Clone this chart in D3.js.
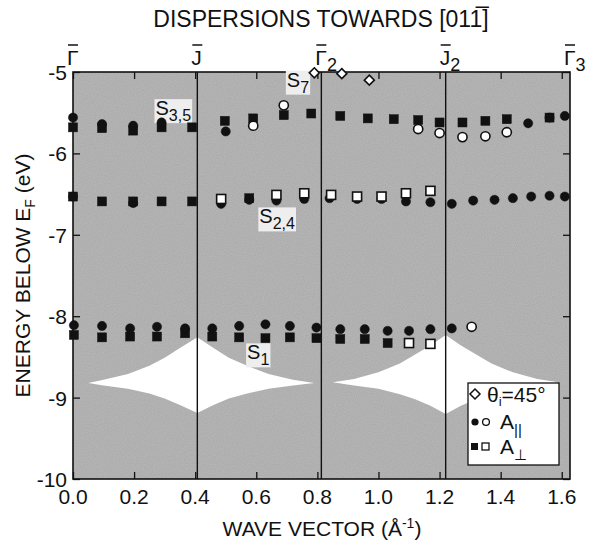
<!DOCTYPE html>
<html>
<head>
<meta charset="utf-8">
<script src="https://cdn.jsdelivr.net/npm/d3@7"></script>
<style>
  body { margin: 0; background: #fff; }
  svg text { font-family: "Liberation Sans", Arial, sans-serif; fill: #111; }
</style>
</head>
<body>
<svg id="chart" width="589" height="546"></svg>
<script>
// Overall dimension of the canvas
const width = 589, height = 546;
const margin = {top: 72, right: 19, bottom: 67, left: 73};
const plotW = width - margin.left - margin.right,
      plotH = height - margin.top - margin.bottom;

// symmetry points along [01-1]
const symLabels = ["\u0393", "J", "\u0393", "J", "\u0393"];
const symSubs   = ["", "", "2", "2", "3"];
const symK      = [0, 0.407, 0.813, 1.22, 1.627];

const xTicks = [0.0, 0.2, 0.4, 0.6, 0.8, 1.0, 1.2, 1.4, 1.6];
const yTicks = [-5, -6, -7, -8, -9, -10];

// measured points [k, E]
// S3,5 band
const s35FilledCircle = [[0,-5.56],[0.095,-5.64],[0.197,-5.66],[0.29,-5.62],[0.5,-5.73],[1.49,-5.63],[1.56,-5.56],[1.61,-5.54]];
const s35FilledSquare = [[0,-5.68],[0.095,-5.69],[0.197,-5.72],[0.29,-5.68],[0.39,-5.68],[0.497,-5.60],[0.59,-5.57],[0.69,-5.53],
                         [0.78,-5.51],[0.875,-5.54],[0.965,-5.57],[1.05,-5.58],[1.13,-5.59],[1.2,-5.62],[1.275,-5.62],[1.35,-5.60],[1.42,-5.58],[1.56,-5.56]];
const s35OpenCircle   = [[0.59,-5.66],[0.69,-5.41],[1.13,-5.70],[1.20,-5.75],[1.275,-5.80],[1.35,-5.79],[1.42,-5.74]];
// S2,4 band
const s24FilledCircle = [[0,-6.53],[0.197,-6.61],[0.485,-6.62],[0.577,-6.57],[0.666,-6.58],[0.757,-6.56],[0.84,-6.55],[0.93,-6.56],
                         [1.01,-6.56],[1.09,-6.59],[1.17,-6.60],[1.24,-6.62],[1.31,-6.58],[1.38,-6.57],[1.44,-6.55],[1.50,-6.53],[1.56,-6.52],[1.61,-6.53]];
const s24FilledSquare = [[0,-6.53],[0.095,-6.59],[0.197,-6.59],[0.29,-6.59],[0.39,-6.59],[0.577,-6.55]];
const s24OpenSquare   = [[0.485,-6.56],[0.666,-6.51],[0.757,-6.49],[0.845,-6.51],[0.93,-6.53],[1.01,-6.53],[1.09,-6.49],[1.17,-6.46]];
// S1 band
const s1FilledCircle  = [[0.003,-8.11],[0.095,-8.12],[0.187,-8.15],[0.275,-8.13],[0.367,-8.15],[0.456,-8.15],[0.544,-8.12],[0.63,-8.10],
                         [0.71,-8.12],[0.797,-8.14],[0.875,-8.16],[0.955,-8.16],[1.03,-8.18],[1.10,-8.18],[1.17,-8.16],[1.24,-8.15]];
const s1FilledSquare  = [[0.003,-8.23],[0.095,-8.26],[0.187,-8.25],[0.275,-8.25],[0.367,-8.21],[0.456,-8.25],[0.544,-8.26],[0.63,-8.27],
                         [0.71,-8.26],[0.797,-8.27],[0.875,-8.28],[0.955,-8.28],[1.03,-8.33]];
const s1OpenSquare    = [[1.10,-8.33],[1.17,-8.34]];
const s1OpenCircle    = [[1.305,-8.13]];
// S7, theta_i = 45 deg
const s7Diamond       = [[0.79,-5.01],[0.88,-5.02],[0.97,-5.10]];

// projected bulk band gap [k, top, bottom]
const gap1 = [[0.05,-8.82,-8.82],[0.10,-8.78,-8.85],[0.18,-8.71,-8.89],[0.25,-8.61,-8.95],[0.30,-8.51,-9.01],[0.35,-8.39,-9.09],
              [0.407,-8.26,-9.19],[0.46,-8.39,-9.09],[0.51,-8.51,-9.01],[0.57,-8.61,-8.95],[0.64,-8.71,-8.89],[0.72,-8.78,-8.85],[0.79,-8.82,-8.82]];
const gap2 = [[0.85,-8.81,-8.81],[0.92,-8.77,-8.85],[1.0,-8.69,-8.89],[1.07,-8.58,-8.96],[1.12,-8.47,-9.02],[1.17,-8.36,-9.10],
              [1.22,-8.23,-9.20],[1.27,-8.36,-9.10],[1.32,-8.47,-9.02],[1.37,-8.58,-8.96],[1.44,-8.69,-8.89],[1.52,-8.77,-8.85],[1.59,-8.81,-8.81]];

// state labels: name, subscript, k, E
const stateNames = ["S", "S", "S", "S"];
const stateSubs  = ["3,5", "7", "2,4", "1"];
const stateK     = [0.27, 0.70, 0.61, 0.57];
const stateE     = [-5.53, -5.18, -6.86, -8.53];

const svg = d3.select("#chart");
const x = d3.scaleLinear().domain([0, 1.627]).range([margin.left, margin.left + plotW]);
const y = d3.scaleLinear().domain([-10, -5]).range([margin.top + plotH, margin.top]);

// halftone-like grain for the gray field
const defs = svg.append("defs");
const grain = defs.append("filter").attr("id", "grain")
    .attr("x", 0).attr("y", 0).attr("width", 1).attr("height", 1);
grain.append("feTurbulence").attr("type", "fractalNoise").attr("baseFrequency", 0.9).attr("numOctaves", 1).attr("seed", 3);
grain.append("feColorMatrix").attr("type", "matrix")
    .attr("values", "0 0 0 0 0  0 0 0 0 0  0 0 0 0 0  0 0 0 0.5 0");

const frameX = x(0), frameY = y(-5), frameW = x(1.627) - x(0), frameH = y(-10) - y(-5);

// gray background
svg.append("rect")
    .attr("x", frameX).attr("y", frameY)
    .attr("width", frameW).attr("height", frameH)
    .attr("fill", "#bababa");
svg.append("rect")
    .attr("x", frameX).attr("y", frameY)
    .attr("width", frameW).attr("height", frameH)
    .attr("fill", "#000").attr("filter", "url(#grain)").attr("opacity", 0.2);

// gap lenses
const area = d3.area()
    .x(d => x(d[0]))
    .y0(d => y(d[2]))
    .y1(d => y(d[1]));
[gap1, gap2].forEach(g => {
    svg.append("path").attr("d", area(g)).attr("fill", "#fff");
});

// symmetry lines
svg.selectAll(".symline")
    .data(symK.slice(1, 4))
    .join("line")
    .attr("x1", d => x(d)).attr("x2", d => x(d))
    .attr("y1", y(-5)).attr("y2", y(-10))
    .attr("stroke", "#111").attr("stroke-width", 1.4);

// axes (ticks inside)
svg.append("g").attr("transform", `translate(0,${y(-10)})`)
    .call(d3.axisTop(x).tickValues(xTicks).tickSize(7).tickFormat(""))
    .call(g => g.select(".domain").remove());
svg.append("g").attr("transform", `translate(0,${y(-5)})`)
    .call(d3.axisBottom(x).tickValues(xTicks).tickSize(7).tickFormat(""))
    .call(g => g.select(".domain").remove());
svg.append("g").attr("transform", `translate(${x(0)},0)`)
    .call(d3.axisRight(y).tickValues(yTicks).tickSize(7).tickFormat(""))
    .call(g => g.select(".domain").remove());
svg.append("g").attr("transform", `translate(${x(1.627)},0)`)
    .call(d3.axisLeft(y).tickValues(yTicks).tickSize(7).tickFormat(""))
    .call(g => g.select(".domain").remove());
svg.selectAll(".tick line").attr("stroke", "#111").attr("stroke-width", 1.3);

// frame
svg.append("rect")
    .attr("x", frameX).attr("y", frameY)
    .attr("width", frameW).attr("height", frameH)
    .attr("fill", "none").attr("stroke", "#111").attr("stroke-width", 1.6);

// tick labels
svg.selectAll(".xlab")
    .data(xTicks)
    .join("text")
    .attr("x", d => x(d)).attr("y", y(-10) + 25)
    .attr("text-anchor", "middle").style("font-size", "21px")
    .text(d => d.toFixed(1));
svg.selectAll(".ylab")
    .data(yTicks)
    .join("text")
    .attr("x", x(0) - 6).attr("y", d => y(d) + 8)
    .attr("text-anchor", "end").style("font-size", "21px")
    .text(d => d);

// symmetry point labels on top
const sym = svg.selectAll(".sym")
    .data(symLabels)
    .join("text")
    .attr("x", (d, i) => x(symK[i]) - 6).attr("y", 65)
    .style("font-size", "21px");
sym.append("tspan").text(d => d);
sym.append("tspan").attr("dy", 6).style("font-size", "18px").text((d, i) => symSubs[i]);
// bars over the letters
svg.selectAll(".symbar")
    .data(symK)
    .join("line")
    .attr("x1", d => x(d) - 5).attr("x2", d => x(d) + 5)
    .attr("y1", 45).attr("y2", 45)
    .attr("stroke", "#111").attr("stroke-width", 1.5);

// title
const title = svg.append("text")
    .attr("x", 321).attr("y", 27)
    .attr("text-anchor", "middle").style("font-size", "23px");
title.append("tspan").text("DISPERSIONS TOWARDS [01");
title.append("tspan").text("1\u0305");
title.append("tspan").text("]");

// axis titles
const xt = svg.append("text")
    .attr("x", 322).attr("y", 536)
    .attr("text-anchor", "middle").style("font-size", "21px");
xt.append("tspan").text("WAVE VECTOR (\u00C5");
xt.append("tspan").attr("dy", -8).style("font-size", "14px").text("-1");
xt.append("tspan").attr("dy", 8).text(")");

const yt = svg.append("text")
    .attr("transform", `translate(30,${y(-7.5)}) rotate(-90)`)
    .attr("text-anchor", "middle").style("font-size", "21px");
yt.append("tspan").text("ENERGY BELOW E");
yt.append("tspan").attr("dy", 5).style("font-size", "14px").text("F");
yt.append("tspan").attr("dy", -5).text(" (eV)");

// state labels with light boxes
stateNames.forEach((s, i) => {
    const t = svg.append("text")
        .attr("x", x(stateK[i])).attr("y", y(stateE[i]))
        .style("font-size", "20px");
    t.append("tspan").text(s);
    t.append("tspan").attr("dy", 6).style("font-size", "16px").text(stateSubs[i]);
    const bb = t.node().getBBox();
    svg.insert("rect", () => t.node())
        .attr("x", bb.x - 1).attr("y", bb.y + 2)
        .attr("width", bb.width + 2).attr("height", bb.height - 3)
        .attr("fill", "#eeeeee");
});

// markers
const sq = 9, r = 4.6;
function squares(data, filled) {
    svg.append("g").selectAll("rect")
        .data(data)
        .join("rect")
        .attr("x", d => x(d[0]) - sq / 2).attr("y", d => y(d[1]) - sq / 2)
        .attr("width", sq).attr("height", sq)
        .attr("fill", filled ? "#111" : "#fff")
        .attr("stroke", "#111").attr("stroke-width", filled ? 0.5 : 1.6);
}
function circles(data, filled) {
    svg.append("g").selectAll("circle")
        .data(data)
        .join("circle")
        .attr("cx", d => x(d[0])).attr("cy", d => y(d[1]))
        .attr("r", r)
        .attr("fill", filled ? "#111" : "#fff")
        .attr("stroke", "#111").attr("stroke-width", filled ? 0.5 : 1.6);
}
squares(s35FilledSquare, true);
circles(s35FilledCircle, true);
circles(s35OpenCircle, false);
circles(s24FilledCircle, true);
squares(s24FilledSquare, true);
squares(s24OpenSquare, false);
squares(s1FilledSquare, true);
squares(s1OpenSquare, false);
circles(s1FilledCircle, true);
circles(s1OpenCircle, false);

const diamond = d3.symbol().type(d3.symbolDiamond2).size(64);
svg.append("g").selectAll("path")
    .data(s7Diamond)
    .join("path")
    .attr("d", diamond)
    .attr("transform", d => `translate(${x(d[0])},${y(d[1])})`)
    .attr("fill", "#fff").attr("stroke", "#111").attr("stroke-width", 1.6);

// legend
const legend = svg.append("g").attr("transform", "translate(468,383)");
legend.append("rect")
    .attr("width", 91).attr("height", 82)
    .attr("fill", "#fff").attr("stroke", "#111").attr("stroke-width", 1.3);
legend.append("path")
    .attr("d", diamond).attr("transform", "translate(7,11)")
    .attr("fill", "#fff").attr("stroke", "#111").attr("stroke-width", 1.5);
const lt = legend.append("text").attr("x", 19).attr("y", 19).style("font-size", "21px");
lt.append("tspan").text("\u03B8");
lt.append("tspan").attr("dy", 4).style("font-size", "13px").text("i");
lt.append("tspan").attr("dy", -4).text("=45\u00B0");

legend.append("circle").attr("cx", 7).attr("cy", 39).attr("r", 3.6).attr("fill", "#111");
legend.append("circle").attr("cx", 18).attr("cy", 39).attr("r", 3.4).attr("fill", "#fff").attr("stroke", "#111").attr("stroke-width", 1.3);
const la = legend.append("text").attr("x", 32).attr("y", 46).style("font-size", "21px");
la.append("tspan").text("A");
la.append("tspan").attr("dy", 6).style("font-size", "15px").text("||");

legend.append("rect").attr("x", 3).attr("y", 60).attr("width", 7).attr("height", 7).attr("fill", "#111");
legend.append("rect").attr("x", 14).attr("y", 60).attr("width", 7).attr("height", 7).attr("fill", "#fff").attr("stroke", "#111").attr("stroke-width", 1.3);
const lp = legend.append("text").attr("x", 32).attr("y", 71).style("font-size", "21px");
lp.append("tspan").text("A");
lp.append("tspan").attr("dy", 6).style("font-size", "15px").text("\u22A5");
</script>
</body>
</html>
